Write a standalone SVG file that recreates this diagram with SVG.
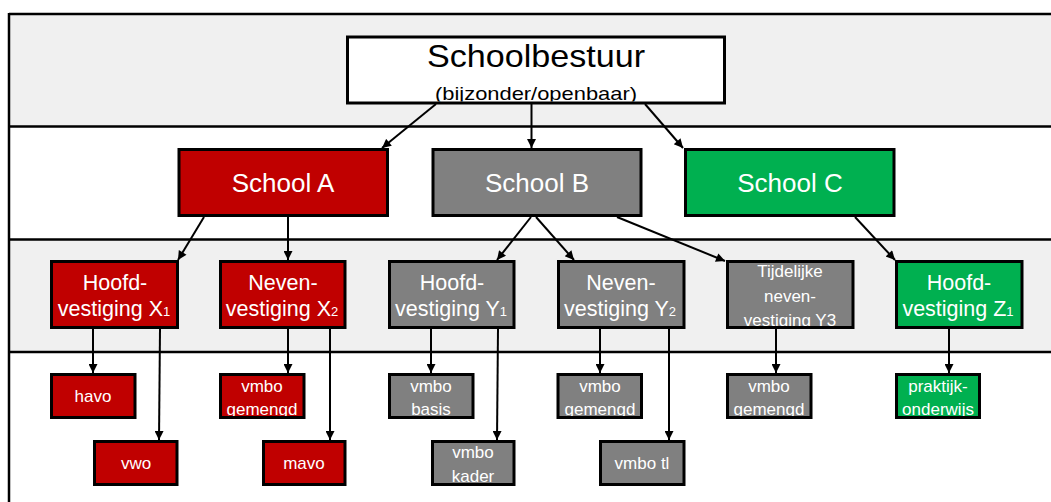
<svg xmlns="http://www.w3.org/2000/svg" width="1051" height="502" viewBox="0 0 1051 502">
<style>
.band{fill:#f0f0f0}
.ln{stroke:#000;stroke-width:2.5;fill:none}
.box{stroke:#000;stroke-width:3}
.red{fill:#c00000}.gray{fill:#808080}.green{fill:#00b050}.white{fill:#fff}
text{font-family:"Liberation Sans",Arial,sans-serif;text-anchor:middle}
.t{fill:#fff}
.big{font-size:26px}
.mid{font-size:21.5px}
.sm{font-size:17px}
.sub{font-size:13px}
.con line{stroke:#000;stroke-width:2;marker-end:url(#ah)}
</style>
<defs>
<marker id="ah" markerUnits="userSpaceOnUse" viewBox="0 0 10 10" refX="10" refY="5" markerWidth="11" markerHeight="9" orient="auto">
<path d="M0,0 L10,5 L0,10 z" fill="#000"/>
</marker>
<clipPath id="cB"><rect x="349" y="38.5" width="374" height="63"/></clipPath>
<clipPath id="cY3"><rect x="729" y="263" width="122.5" height="63"/></clipPath>
<clipPath id="cGA"><rect x="222" y="376" width="80.5" height="40"/></clipPath>
<clipPath id="cGY2"><rect x="559.5" y="376" width="80.5" height="40"/></clipPath>
<clipPath id="cGY3"><rect x="729" y="376" width="80.5" height="40"/></clipPath>
<clipPath id="cP"><rect x="898" y="376" width="80" height="40"/></clipPath>
<clipPath id="cBa"><rect x="391" y="376" width="80.5" height="40"/></clipPath>
<clipPath id="cK"><rect x="434" y="443" width="78.5" height="40"/></clipPath>
</defs>
<g id="background">
<rect class="band" x="9" y="14" width="1042" height="112.5"/>
<rect fill="#fff" x="9" y="126.5" width="1042" height="113"/>
<rect class="band" x="9" y="239.5" width="1042" height="112.5"/>
<rect fill="#fff" x="9" y="352" width="1042" height="150"/>
<line class="ln" x1="9" y1="14" x2="1051" y2="14"/>
<line class="ln" x1="9" y1="126.5" x2="1051" y2="126.5"/>
<line class="ln" x1="9" y1="239.5" x2="1051" y2="239.5"/>
<line class="ln" x1="9" y1="352" x2="1051" y2="352"/>
<line class="ln" x1="9" y1="13" x2="9" y2="502"/>
</g>
<g id="connectors" class="con">
<line x1="436" y1="104" x2="382" y2="148"/>
<line x1="531.5" y1="104" x2="531.5" y2="148"/>
<line x1="645" y1="104" x2="683" y2="148"/>
<line x1="204" y1="217" x2="178" y2="260"/>
<line x1="288" y1="217" x2="288" y2="260"/>
<line x1="531" y1="217" x2="497" y2="260"/>
<line x1="536" y1="217" x2="574" y2="260"/>
<line x1="617" y1="217" x2="725" y2="261"/>
<line x1="855" y1="217" x2="895" y2="260"/>
<line x1="93" y1="329" x2="93" y2="373"/>
<line x1="160" y1="329" x2="159" y2="440"/>
<line x1="288" y1="329" x2="288" y2="373"/>
<line x1="330" y1="329" x2="330" y2="440"/>
<line x1="431" y1="329" x2="431" y2="373"/>
<line x1="498" y1="329" x2="497" y2="440"/>
<line x1="600" y1="329" x2="600" y2="373"/>
<line x1="669" y1="329" x2="669" y2="440"/>
<line x1="776" y1="329" x2="776" y2="373"/>
<line x1="949" y1="329" x2="949" y2="373"/>
</g>
<g id="schoolbestuur">
<rect class="box white" x="347.5" y="37" width="377" height="66"/>
<text x="536" y="67" font-size="32" textLength="218" lengthAdjust="spacingAndGlyphs">Schoolbestuur</text>
<text x="536" y="100" font-size="19" textLength="202" lengthAdjust="spacingAndGlyphs" clip-path="url(#cB)">(bijzonder/openbaar)</text>
</g>
<g id="schoolA">
<rect class="box red" x="179" y="149.5" width="208.5" height="66"/>
<text class="t big" x="283" y="192">School A</text>
</g>
<g id="schoolB">
<rect class="box gray" x="433" y="149.5" width="208" height="66"/>
<text class="t big" x="537" y="192">School B</text>
</g>
<g id="schoolC">
<rect class="box green" x="685.5" y="149.5" width="208.5" height="66"/>
<text class="t big" x="790" y="192">School C</text>
</g>
<g id="hoofdX1">
<rect class="box red" x="51.5" y="261.5" width="126" height="66"/>
<text class="t mid" x="115" y="290">Hoofd-</text>
<text class="t mid" x="114" y="316">vestiging X<tspan class="sub">1</tspan></text>
</g>
<g id="nevenX2">
<rect class="box red" x="220.5" y="261.5" width="124.5" height="66"/>
<text class="t mid" x="283" y="290">Neven-</text>
<text class="t mid" x="282" y="316">vestiging X<tspan class="sub">2</tspan></text>
</g>
<g id="hoofdY1">
<rect class="box gray" x="389.5" y="261.5" width="124.5" height="66"/>
<text class="t mid" x="452" y="290">Hoofd-</text>
<text class="t mid" x="451" y="316">vestiging Y<tspan class="sub">1</tspan></text>
</g>
<g id="nevenY2">
<rect class="box gray" x="558.5" y="261.5" width="125.5" height="66"/>
<text class="t mid" x="621" y="290">Neven-</text>
<text class="t mid" x="620" y="316">vestiging Y<tspan class="sub">2</tspan></text>
</g>
<g id="tijdelijkY3">
<rect class="box gray" x="727.5" y="261.5" width="125.5" height="66"/>
<g clip-path="url(#cY3)">
<text class="t sm" x="790" y="276.5">Tijdelijke</text>
<text class="t sm" x="790" y="301.5">neven-</text>
<text class="t sm" x="790" y="325.5">vestiging Y3</text>
</g>
</g>
<g id="hoofdZ1">
<rect class="box green" x="896.5" y="261.5" width="125.5" height="66"/>
<text class="t mid" x="959" y="290">Hoofd-</text>
<text class="t mid" x="958" y="316">vestiging Z<tspan class="sub">1</tspan></text>
</g>
<g id="havo">
<rect class="box red" x="51.5" y="374.5" width="83.5" height="43"/>
<text class="t sm" x="93" y="402">havo</text>
</g>
<g id="vwo">
<rect class="box red" x="94.5" y="441.5" width="82.5" height="43"/>
<text class="t sm" x="136" y="469">vwo</text>
</g>
<g id="vmboGemengdA">
<rect class="box red" x="220.5" y="374.5" width="83.5" height="43"/>
<g clip-path="url(#cGA)">
<text class="t sm" x="262" y="391.5">vmbo</text>
<text class="t sm" x="262" y="415">gemengd</text>
</g>
</g>
<g id="mavo">
<rect class="box red" x="263.5" y="441.5" width="81.5" height="43"/>
<text class="t sm" x="304" y="469">mavo</text>
</g>
<g id="vmboBasis">
<rect class="box gray" x="389.5" y="374.5" width="83.5" height="43"/>
<g clip-path="url(#cBa)">
<text class="t sm" x="431" y="391.5">vmbo</text>
<text class="t sm" x="431" y="415">basis</text>
</g>
</g>
<g id="vmboKader">
<rect class="box gray" x="432.5" y="441.5" width="81.5" height="43"/>
<g clip-path="url(#cK)">
<text class="t sm" x="473" y="458">vmbo</text>
<text class="t sm" x="473" y="481.5">kader</text>
</g>
</g>
<g id="vmboGemengdY2">
<rect class="box gray" x="558" y="374.5" width="83.5" height="43"/>
<g clip-path="url(#cGY2)">
<text class="t sm" x="600" y="391.5">vmbo</text>
<text class="t sm" x="600" y="415">gemengd</text>
</g>
</g>
<g id="vmboTl">
<rect class="box gray" x="600.5" y="441.5" width="83.5" height="43"/>
<text class="t sm" x="642" y="469">vmbo tl</text>
</g>
<g id="vmboGemengdY3">
<rect class="box gray" x="727.5" y="374.5" width="83.5" height="43"/>
<g clip-path="url(#cGY3)">
<text class="t sm" x="769" y="391.5">vmbo</text>
<text class="t sm" x="769" y="415">gemengd</text>
</g>
</g>
<g id="praktijkonderwijs">
<rect class="box green" x="896.5" y="374.5" width="83" height="43"/>
<g clip-path="url(#cP)">
<text class="t sm" x="938" y="391.5">praktijk-</text>
<text class="t sm" x="938" y="415">onderwijs</text>
</g>
</g>
</svg>
